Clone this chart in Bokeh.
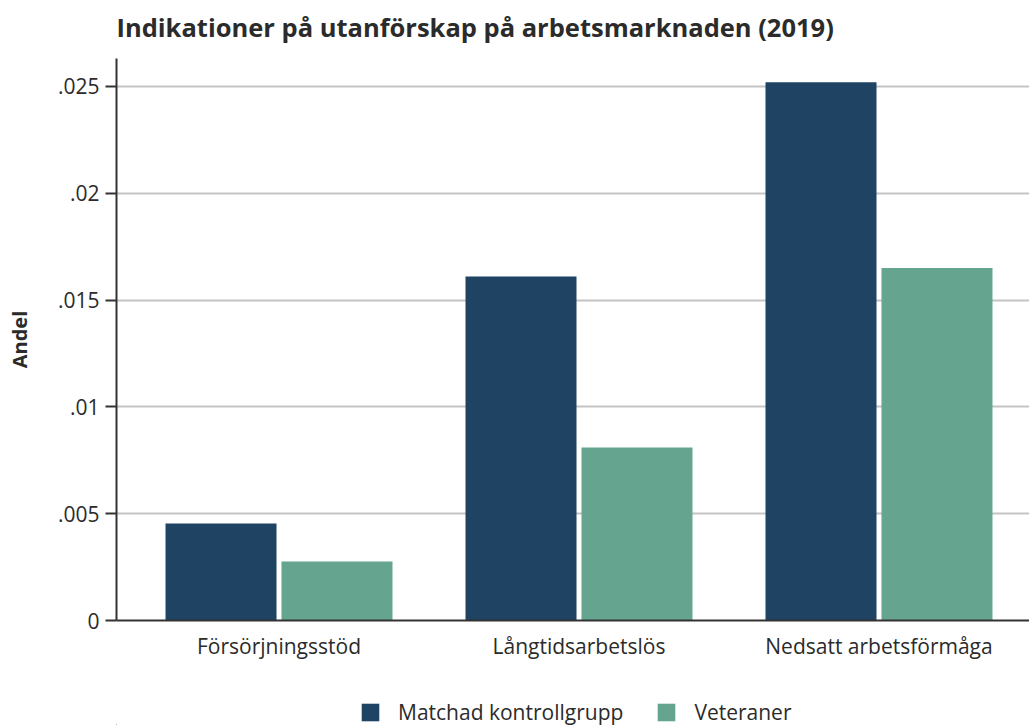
from bokeh.plotting import figure
from bokeh.layouts import column
from bokeh.models import Range1d, FixedTicker, Legend, LegendItem, ColumnDataSource, Label
from bokeh.embed import file_html
from bokeh.resources import INLINE

categories = ["Försörjningsstöd", "Långtidsarbetslös", "Nedsatt arbetsförmåga"]
kontroll = [0.00454, 0.0161, 0.0252]
veteraner = [0.00276, 0.0081, 0.0165]
series_names = ["Matchad kontrollgrupp", "Veteraner"]
y_ticks = [0, 0.005, 0.01, 0.015, 0.02, 0.025]
y_tick_labels = ["0", ".005", ".01", ".015", ".02", ".025"]
title_text = "Indikationer på utanförskap på arbetsmarknaden (2019)"

FONT = "Open Sans"
TXT = "#2b2b2b"
C1 = "#1e4363"
C2 = "#65a48e"

centers = [i + 0.5 for i in range(len(categories))]
off = 0.1933
bw = 0.37

src = ColumnDataSource(dict(
    x1=[c - off for c in centers],
    x2=[c + off for c in centers],
    k=kontroll,
    v=veteraner,
))

# title strip
tf = figure(width=1029, height=50, output_backend="svg", toolbar_location=None,
            x_range=Range1d(0, 1), y_range=Range1d(0, 1),
            x_axis_type=None, y_axis_type=None, min_border=0)
tf.outline_line_color = None
tf.grid.grid_line_color = None
tf.add_layout(Label(x=0, y=24, x_units="screen", y_units="screen",
                    text=title_text, text_font=FONT, text_font_size="25.5px",
                    text_font_style="bold", text_color=TXT,
                    text_baseline="alphabetic", text_align="left"))

p = figure(width=1029, height=620, output_backend="svg", toolbar_location=None,
           x_range=Range1d(-0.0417, 3.0017), y_range=Range1d(0, 0.02631),
           min_border_left=116, min_border_right=0, min_border_top=8,
           min_border_bottom=50)

r1 = p.vbar(x="x1", top="k", width=bw, source=src, fill_color=C1, line_color=None)
r2 = p.vbar(x="x2", top="v", width=bw, source=src, fill_color=C2, line_color=None)

p.outline_line_color = None
p.background_fill_color = "white"

# y axis
p.yaxis.ticker = FixedTicker(ticks=y_ticks)
p.yaxis.major_label_overrides = {t: l for t, l in zip(y_ticks, y_tick_labels)}
p.yaxis.axis_label = "Andel"
p.yaxis.axis_label_text_font = FONT
p.yaxis.axis_label_text_font_size = "20px"
p.yaxis.axis_label_text_font_style = "bold"
p.yaxis.axis_label_text_color = TXT
p.yaxis.axis_label_standoff = 22
p.yaxis.major_label_text_font = FONT
p.yaxis.major_label_text_font_size = "21px"
p.yaxis.major_label_text_color = TXT
p.yaxis.major_label_standoff = 6
p.yaxis.major_tick_out = 11
p.yaxis.major_tick_in = 0
p.yaxis.major_tick_line_width = 2
p.yaxis.major_tick_line_color = "#333333"
p.yaxis.minor_tick_line_color = None
p.yaxis.axis_line_width = 2
p.yaxis.axis_line_color = "#333333"

# x axis
p.xaxis.ticker = FixedTicker(ticks=centers)
p.xaxis.major_label_overrides = {c: n for c, n in zip(centers, categories)}
p.xaxis.major_label_text_font = FONT
p.xaxis.major_label_text_font_size = "21px"
p.xaxis.major_label_text_color = TXT
p.xaxis.major_label_standoff = 5
p.xaxis.major_tick_line_color = None
p.xaxis.minor_tick_line_color = None
p.xaxis.axis_line_width = 2
p.xaxis.axis_line_color = "#333333"

p.xgrid.grid_line_color = None
p.ygrid.ticker = FixedTicker(ticks=y_ticks[1:])
p.ygrid.grid_line_color = "#c4c4c4"
p.ygrid.grid_line_width = 2

# legend strip below the chart (its renderers use the same data, out of view)
lg = figure(width=1029, height=55, output_backend="svg", toolbar_location=None,
            x_range=Range1d(100, 101), y_range=Range1d(0, 1),
            x_axis_type=None, y_axis_type=None,
            min_border=0)
lg.outline_line_color = None
lg.grid.grid_line_color = None
e1 = lg.vbar(x="x1", top="k", width=bw, source=src, fill_color=C1, line_color=None)
e2 = lg.vbar(x="x2", top="v", width=bw, source=src, fill_color=C2, line_color=None)
legend = Legend(items=[LegendItem(label=series_names[0], renderers=[e1]),
                       LegendItem(label=series_names[1], renderers=[e2])],
                orientation="horizontal", location=(243, -1),
                glyph_width=22, glyph_height=22, label_standoff=17, spacing=32,
                padding=0, margin=0, border_line_color=None,
                background_fill_alpha=0,
                label_text_font=FONT, label_text_font_size="21px",
                label_text_color=TXT)
lg.add_layout(legend, "center")

layout = column(tf, p, lg, spacing=0)
open("out.html", "w").write(file_html(layout, INLINE))
